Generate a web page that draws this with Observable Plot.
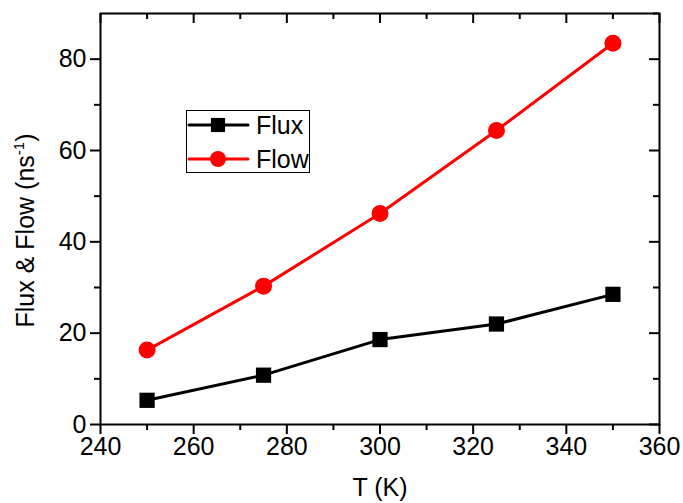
<!DOCTYPE html>
<html>
<head>
<meta charset="utf-8">
<script src="https://cdn.jsdelivr.net/npm/d3@7"></script>
<script src="https://cdn.jsdelivr.net/npm/@observablehq/plot@0.6"></script>
<style>
  html, body { margin: 0; padding: 0; background: #fff; }
  #wrap { position: relative; width: 683px; height: 503px; font-family: "Liberation Sans", Arial, sans-serif; }
  #legend { position: absolute; }
</style>
</head>
<body>
<div id="wrap"></div>
<script>
// ---- data ----
const temps = [250, 275, 300, 325, 350];
const fluxValues = [5.3, 10.8, 18.6, 22.0, 28.5];
const flowValues = [16.3, 30.3, 46.2, 64.4, 83.5];
const seriesNames = ["Flux", "Flow"];
const seriesColors = ["#000000", "#ff0000"];
const seriesSymbols = ["square", "circle"];
const xMajorTicks = [240, 260, 280, 300, 320, 340, 360];
const xMinorTicks = [250, 270, 290, 310, 330, 350];
const yMajorTicks = [0, 20, 40, 60, 80];
const yMinorTicks = [10, 30, 50, 70, 90];
const xLabel = "T (K)";
const yLabelMain = "Flux & Flow (ns";
const yLabelSup = "-1";
const yLabelEnd = ")";

const rows = [];
seriesNames.forEach((name, si) => {
  const vals = si === 0 ? fluxValues : flowValues;
  temps.forEach((t, i) => rows.push({series: name, T: t, v: vals[i]}));
});

// ---- layout ----
const W = 683, H = 503;
const mL = 100, mR = 24, mT = 13, mB = 79;
const innerW = W - mL - mR, innerH = H - mT - mB;
const fs = 25;

const chart = Plot.plot({
  width: W, height: H,
  marginLeft: mL, marginRight: mR, marginTop: mT, marginBottom: mB,
  style: {fontFamily: "Liberation Sans, Arial, sans-serif", fontSize: fs + "px", color: "#000", background: "#fff"},
  x: {domain: [240, 360], label: null},
  y: {domain: [0, 90], label: null},
  color: {domain: seriesNames, range: seriesColors},
  symbol: {domain: seriesNames, range: seriesSymbols},
  marks: [
    Plot.axisX({ticks: xMajorTicks, tickSize: 10, tickPadding: 3, strokeWidth: 2, fontSize: fs, label: null}),
    Plot.axisX({ticks: xMinorTicks, tickSize: 6, tickFormat: () => "", strokeWidth: 2, label: null}),
    Plot.axisY({ticks: yMajorTicks, tickSize: 10, tickPadding: 4, strokeWidth: 2, fontSize: fs, label: null}),
    Plot.axisY({ticks: yMinorTicks.filter(d => d < 90), tickSize: 6, tickFormat: () => "", strokeWidth: 2, label: null}),
    // inward ticks on top & right
    Plot.tickX(xMajorTicks, {x: d => d, insetBottom: innerH - 10, stroke: "#000", strokeWidth: 2}),
    Plot.tickX(xMinorTicks, {x: d => d, insetBottom: innerH - 6, stroke: "#000", strokeWidth: 2}),
    Plot.tickY(yMajorTicks, {y: d => d, insetLeft: innerW - 10, stroke: "#000", strokeWidth: 2}),
    Plot.tickY(yMinorTicks, {y: d => d, insetLeft: innerW - 6, stroke: "#000", strokeWidth: 2}),
    Plot.frame({stroke: "#000", strokeWidth: 2}),
    Plot.line(rows, {x: "T", y: "v", z: "series", stroke: "series", strokeWidth: 3}),
    Plot.dot(rows.filter(d => d.series === "Flux"), {x: "T", y: "v", symbol: "series", fill: "series", r: 8.6, stroke: null}),
    Plot.dot(rows.filter(d => d.series === "Flow"), {x: "T", y: "v", symbol: "series", fill: "series", r: 8.5, stroke: null}),
    Plot.text([xLabel], {frameAnchor: "bottom", dy: 71, fontSize: fs, fill: "#000"})
  ]
});

document.getElementById("wrap").appendChild(chart);

// y-axis title with superscript
const svg = d3.select(chart);
const yl = svg.append("text")
  .attr("transform", `translate(${mL - 66},${mT + innerH / 2 + 12}) rotate(-90)`)
  .attr("text-anchor", "middle")
  .attr("font-size", fs)
  .attr("font-family", "Liberation Sans, Arial, sans-serif")
  .attr("fill", "#000");
yl.append("tspan").text(yLabelMain);
yl.append("tspan").attr("font-size", fs * 0.6).attr("dy", -10).text(yLabelSup);
yl.append("tspan").attr("dy", 10).text(yLabelEnd);

// legend overlay
const lg = d3.select("#wrap").append("svg")
  .attr("id", "legend")
  .style("left", "186px").style("top", "110px")
  .attr("width", 125).attr("height", 63);
lg.append("rect").attr("x", 0.5).attr("y", 0.5).attr("width", 123).attr("height", 62)
  .attr("fill", "#fff").attr("stroke", "#000").attr("stroke-width", 1);
seriesNames.forEach((name, i) => {
  const cy = 15 + i * 34;
  lg.append("line").attr("x1", 3).attr("x2", 62).attr("y1", cy).attr("y2", cy)
    .attr("stroke", seriesColors[i]).attr("stroke-width", 3).attr("stroke-linecap", "round");
  const sym = seriesSymbols[i] === "square" ? d3.symbolSquare : d3.symbolCircle;
  const r = 8;
  lg.append("path").attr("d", d3.symbol(sym, Math.PI * r * r)())
    .attr("transform", `translate(32,${cy})`).attr("fill", seriesColors[i]);
  lg.append("text").attr("x", 70).attr("y", cy + 9).attr("font-size", fs)
    .attr("font-family", "Liberation Sans, Arial, sans-serif").attr("fill", "#000").text(name);
});
</script>
</body>
</html>
